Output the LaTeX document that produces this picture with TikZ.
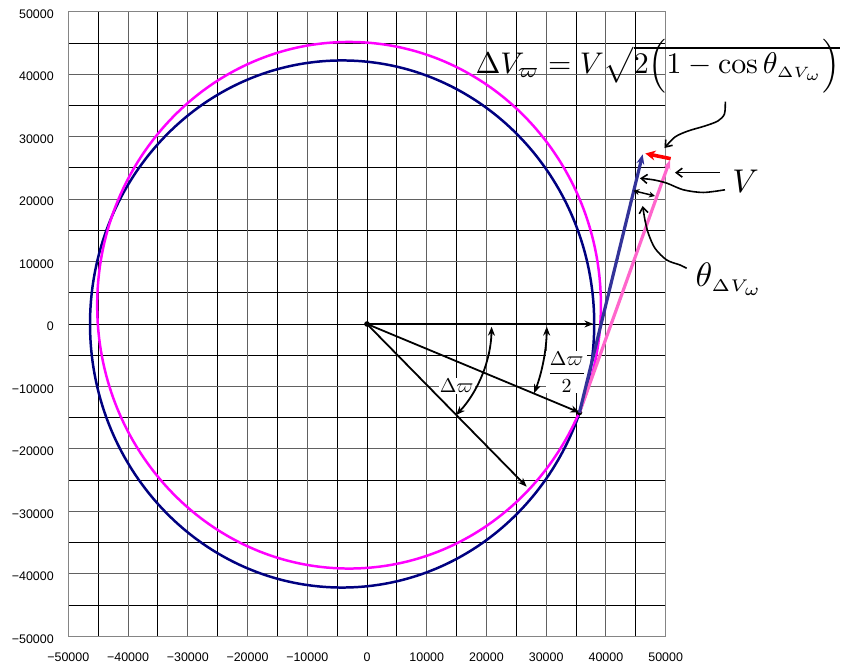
\documentclass[tikz,border=0pt]{standalone}
\usepackage{amsmath}
\usepackage{fontspec}
\setsansfont{Liberation Sans}
\usepackage{tikz}
\usetikzlibrary{arrows.meta}
\definecolor{navy}{HTML}{000080}
\definecolor{orbit}{HTML}{FF00FF}
\definecolor{vblue}{HTML}{333399}
\definecolor{vpink}{HTML}{FF66CC}
\definecolor{vred}{HTML}{FF0000}
\definecolor{frame}{HTML}{858585}
\tikzset{gridline/.style={draw=black,line width=.9pt},gridmajor/.style={draw=black!62,line width=.9pt},frameline/.style={draw=frame,line width=1.2pt},tick/.style={font=\sffamily\fontsize{12.5}{14}\selectfont,inner sep=0pt},navycurve/.style={draw=navy,line width=2.5pt},orbitcurve/.style={draw=orbit,line width=2.5pt},radial/.style={-{Stealth[length=9pt,width=7pt]},line width=1.8pt},anglearc/.style={{Stealth[length=9pt,width=7pt]}-{Stealth[length=9pt,width=7pt]},line width=1.8pt},bluevec/.style={-{Stealth[length=10pt,width=8pt]},draw=vblue,line width=3.2pt},pinkvec/.style={-{Stealth[length=9pt,width=7pt]},draw=vpink,line width=3.2pt},redvec/.style={-{Stealth[length=10pt,width=10pt]},draw=vred,line width=3.6pt},pointer/.style={-{Straight Barb[length=6pt,width=9pt]},line width=1.6pt},dblarrow/.style={{Stealth[length=6pt,width=6pt]}-{Stealth[length=6pt,width=6pt]},line width=1.5pt},anglelabel/.style={fill=white,inner sep=.5pt,scale=2}}

\begin{document}
\begin{tikzpicture}[x=5.974bp,y=6.245bp]
 \useasboundingbox (-61.43,-54.76) rectangle (80.52,51.88);
 % grid, 5000 per line
 \foreach \v in {-45,-35,...,45}{\draw[gridline] (\v,-50)--(\v,50); \draw[gridline] (-50,\v)--(50,\v);}
 \foreach \v in {-40,-30,...,40}{\draw[gridmajor] (\v,-50)--(\v,50); \draw[gridmajor] (-50,\v)--(50,\v);}
 \draw[gridline] (0,-50)--(0,50) (-50,0)--(50,0);
 \draw[frameline] (-50,-50) rectangle (50,50);
 \foreach \v/\t in {50/50000,40/40000,30/30000,20/20000,10/10000,0/0,-10/−10000,-20/−20000,-30/−30000,-40/−40000,-50/−50000}{
  \node[tick,anchor=east] (ytick\v) at (-52.4,\v-.4) {\t};
  \node[tick] (xtick\v) at (\v,-53.3) {\t};}
 % orbits
 \draw[navycurve] (-4.16,0) circle[radius=42.2];
 \draw[orbitcurve] (-3,3) circle[radius=42.16];
 \coordinate (O) at (0,0); \coordinate (H) at (37.9,0); \coordinate (P) at (35.57,-14.17); \coordinate (D) at (26.73,-26.05);
 \node[anglelabel] (dw) at (15.02,-9.93) {$\Delta\varpi$};
 \node[anglelabel] (dwhalf) at (33.43,-7.69) {$\dfrac{\Delta\varpi}{2}$};
 \draw[radial] (O)--(H); \draw[radial] (O)--(P); \draw[radial] (O)--(D);
 \draw[anglearc] (-1.2:20.87) arc[start angle=-1.2,end angle=-44.3,radius=20.87];
 \draw[anglearc] (-.8:30.1) arc[start angle=-.8,end angle=-21.6,radius=30.1];
 \fill (O) circle[radius=2.8pt]; \fill (P) circle[radius=2.8pt];
 % velocity vectors
 \coordinate (Vb) at (46.15,27.17); \coordinate (Vp) at (50.72,26.26); \coordinate (Vr) at (46.6,27.3);
 \draw[pinkvec] (P)--(Vp);
 \draw[bluevec] (P)--(Vb);
 \draw[redvec] (50.84,26.47)--(Vr);
 \draw[dblarrow] (44.58,21.35)--(48.21,20.5);
 % labels and pointers
 \node[anchor=base west,inner sep=0pt,scale=3] (dvform) at (18.08,40.14) {$\Delta V_{\varpi}=V\sqrt{2\smash{\Bigl(}1-\cos\theta_{\scriptscriptstyle\Delta V_{\omega}}\smash{\Bigr)}}$};
 \node[anchor=base west,inner sep=0pt,scale=3.3] (vlab) at (61.05,20.98) {$V$};
 \node[anchor=base west,inner sep=0pt,scale=3.4] (thlab) at (54.9,5.97) {$\theta_{\scriptscriptstyle\Delta V_{\omega}}$};
 \coordinate (qtip) at (49.8,28.18); \coordinate (vtip) at (45.7,23.33); \coordinate (ttip) at (46.15,18.9);
 \draw[pointer] plot[smooth] coordinates {(59.98,35.6) (59.84,33.63) (58.75,32.51) (56.58,31.71) (53.73,30.9) (51.56,29.94) (qtip)};
 \draw[pointer] (59.09,24.23)--(51.56,24.23);
 \draw[pointer] plot[smooth] coordinates {(59.93,21.49) (56.29,21.06) (52.95,21.49) (50.17,22.56) (47.92,23.09) (vtip)};
 \draw[pointer] plot[smooth] coordinates {(53.52,8.92) (52.39,9.45) (50.17,10.25) (48.21,12.12) (47.09,14.52) (46.53,16.65) (ttip)};
\end{tikzpicture}
\end{document}
